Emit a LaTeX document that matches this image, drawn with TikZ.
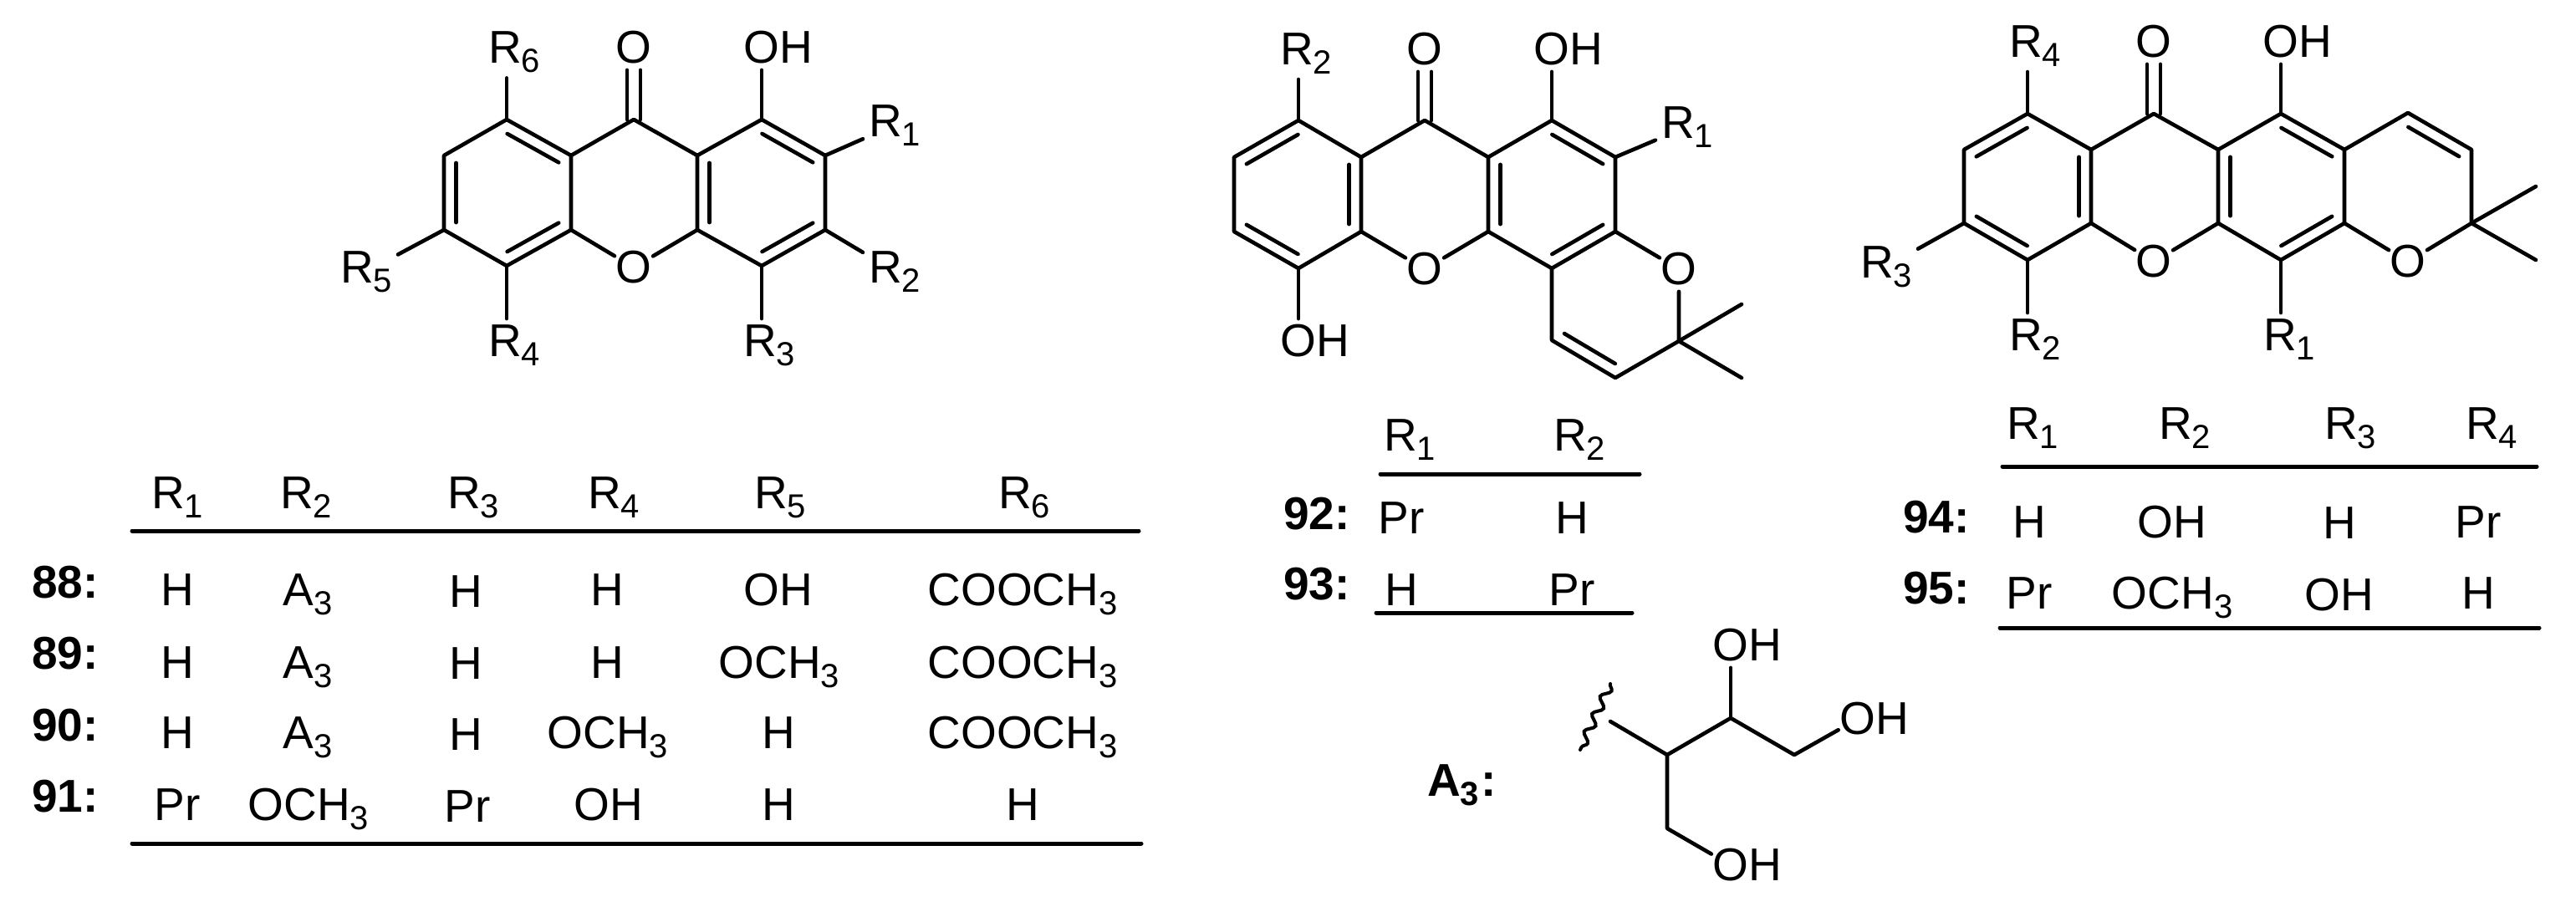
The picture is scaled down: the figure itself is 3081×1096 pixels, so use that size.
\documentclass[tikz,border=0pt]{standalone}
\usepackage{fontspec}
\setmainfont{Liberation Sans}
\usetikzlibrary{calc,decorations.pathmorphing}
\newcommand{\sbs}[1]{\raisebox{-11pt}{\fontsize{40}{44}\selectfont #1}}
\tikzset{
  every node/.style={font=\fontsize{55}{60}\selectfont},
  bond/.style={line width=4.6pt, line cap=round, line join=round},
  rulebar/.style={line width=5pt, line cap=round},
  inbond/.style={
    to path={($(\tikztostart)!0.1!(\tikztotarget)!14.5pt!90:(\tikztotarget)$)
      -- ($(\tikztotarget)!0.1!(\tikztostart)!14.5pt!-90:(\tikztostart)$)}
  },
  atom/.style={circle, inner sep=0pt, outer sep=-2pt},
  rgroup/.style={anchor=base west, inner sep=0pt, outer sep=7pt},
  cell/.style={anchor=base, inner sep=0pt},
  tag/.style={anchor=base west, inner sep=0pt, font=\fontsize{55}{60}\selectfont\bfseries},
  wavy/.style={line width=4pt, line cap=round, decorate,
    decoration={snake, segment length=23pt, amplitude=5pt}},
}

\begin{document}
\begin{tikzpicture}[x=1pt,y=-1pt]
\useasboundingbox (0,0) rectangle (3081,1096);
% --- Compounds 88-91 ---
\coordinate (a1) at (606,143);
\coordinate (a2) at (531,186);
\coordinate (a3) at (531,275);
\coordinate (a4) at (606,318);
\coordinate (a5) at (683,275);
\coordinate (a6) at (683,186);
\coordinate (a7) at (758,143);
\coordinate (a8) at (834,186);
\coordinate (a9) at (834,275);
\coordinate (a10) at (911,143);
\coordinate (a11) at (911,318);
\coordinate (a12) at (987,275);
\coordinate (a13) at (987,186);
\node[atom] (aketo) at (758,57) {O};
\node[atom] (aoxo) at (758,320) {O};
\node[atom] (aoh) at (911,57) {O\rlap{H}};
\node[rgroup] (ar6) at (577,75) {R\sbs{6}};
\node[rgroup] (ar1) at (1032,163) {R\sbs{1}};
\node[rgroup] (ar2) at (1032,338) {R\sbs{2}};
\node[rgroup] (ar3) at (882,426) {R\sbs{3}};
\node[rgroup] (ar4) at (577,426) {R\sbs{4}};
\node[rgroup] (ar5) at (400,338) {R\sbs{5}};
\draw[bond] (a1) -- (a2) -- (a3) -- (a4) -- (a5) -- (a6) -- cycle;
\draw[bond] (a6) -- (a7) -- (a8) -- (a9) -- (aoxo) -- (a5);
\draw[bond] (a8) -- (a10) -- (a13) -- (a12) -- (a11) -- (a9);
\draw[bond] (a2) to[inbond] (a3);
\draw[bond] (a4) to[inbond] (a5);
\draw[bond] (a6) to[inbond] (a1);
\draw[bond] (a8) to[inbond] (a9);
\draw[bond] (a11) to[inbond] (a12);
\draw[bond] (a13) to[inbond] (a10);
\draw[bond,transform canvas={xshift=-8pt}] (a7) -- (aketo);
\draw[bond,transform canvas={xshift=8pt}] (a7) -- (aketo);
\draw[bond] (a10) -- (aoh);
\draw[bond] (a1) -- (a1 |- ar6.south);
\draw[bond] (a13) -- (ar1);
\draw[bond] (a12) -- (ar2);
\draw[bond] (a11) -- (a11 |- ar3.north);
\draw[bond] (a4) -- (a4 |- ar4.north);
\draw[bond] (a3) -- (ar5);
% table
\coordinate (abar1) at (158,635);
\coordinate (abar2) at (1362,635);
\coordinate (abar3) at (158,1009);
\coordinate (abar4) at (1365,1009);
\draw[rulebar] (abar1) -- (abar2);
\draw[rulebar] (abar3) -- (abar4);
\node[cell] (ah1) at (212,608) {R\sbs{1}};
\node[cell] (ah2) at (366,608) {R\sbs{2}};
\node[cell] (ah3) at (566,608) {R\sbs{3}};
\node[cell] (ah4) at (734,608) {R\sbs{4}};
\node[cell] (ah5) at (933,608) {R\sbs{5}};
\node[cell] (ah6) at (1225,608) {R\sbs{6}};
\node[tag] (t88) at (38,715) {88:};
\node[cell] (c88a) at (212,724) {H};
\node[cell] (c88b) at (368,724) {A\sbs{3}};
\node[cell] (c88c) at (557,726) {H};
\node[cell] (c88d) at (726,724) {H};
\node[cell] (c88e) at (931,724) {OH};
\node[cell] (c88f) at (1223,724) {COOCH\sbs{3}};
\node[tag] (t89) at (38,800) {89:};
\node[cell] (c89a) at (212,811) {H};
\node[cell] (c89b) at (368,811) {A\sbs{3}};
\node[cell] (c89c) at (557,812) {H};
\node[cell] (c89d) at (726,811) {H};
\node[cell] (c89e) at (932,811) {OCH\sbs{3}};
\node[cell] (c89f) at (1223,811) {COOCH\sbs{3}};
\node[tag] (t90) at (38,886) {90:};
\node[cell] (c90a) at (212,895) {H};
\node[cell] (c90b) at (368,895) {A\sbs{3}};
\node[cell] (c90c) at (557,897) {H};
\node[cell] (c90d) at (727,895) {OCH\sbs{3}};
\node[cell] (c90e) at (931,895) {H};
\node[cell] (c90f) at (1223,895) {COOCH\sbs{3}};
\node[tag] (t91) at (38,971) {91:};
\node[cell] (c91a) at (212,981) {Pr};
\node[cell] (c91b) at (369,981) {OCH\sbs{3}};
\node[cell] (c91c) at (559,983) {Pr};
\node[cell] (c91d) at (728,981) {OH};
\node[cell] (c91e) at (931,981) {H};
\node[cell] (c91f) at (1223,981) {H};
% --- Compounds 92-93 ---
\coordinate (b1) at (1553,144);
\coordinate (b2) at (1476,188);
\coordinate (b3) at (1476,277);
\coordinate (b4) at (1553,321);
\coordinate (b5) at (1628,277);
\coordinate (b6) at (1628,188);
\coordinate (b7) at (1704,144);
\coordinate (b8) at (1780,188);
\coordinate (b9) at (1780,277);
\coordinate (b10) at (1856,144);
\coordinate (b11) at (1856,321);
\coordinate (b12) at (1932,277);
\coordinate (b13) at (1932,188);
\coordinate (b14) at (1856,407);
\coordinate (b15) at (1932,452);
\coordinate (b16) at (2008,408);
\coordinate (b17) at (2083,364);
\coordinate (b18) at (2083,452);
\node[atom] (bketo) at (1704,59) {O};
\node[atom] (boxo) at (1704,322) {O};
\node[atom] (bpyr) at (2008,322) {O};
\node[atom] (boh) at (1856,59) {O\rlap{H}};
\node[atom] (boh2) at (1553,408) {O\rlap{H}};
\node[rgroup] (br2) at (1524,77) {R\sbs{2}};
\node[rgroup] (br1) at (1980,165) {R\sbs{1}};
\draw[bond] (b1) -- (b2) -- (b3) -- (b4) -- (b5) -- (b6) -- cycle;
\draw[bond] (b6) -- (b7) -- (b8) -- (b9) -- (boxo) -- (b5);
\draw[bond] (b8) -- (b10) -- (b13) -- (b12) -- (b11) -- (b9);
\draw[bond] (b11) -- (b14) -- (b15) -- (b16) -- (bpyr) -- (b12);
\draw[bond] (b17) -- (b16) -- (b18);
\draw[bond] (b1) to[inbond] (b2);
\draw[bond] (b3) to[inbond] (b4);
\draw[bond] (b5) to[inbond] (b6);
\draw[bond] (b8) to[inbond] (b9);
\draw[bond] (b11) to[inbond] (b12);
\draw[bond] (b13) to[inbond] (b10);
\draw[bond] (b14) to[inbond] (b15);
\draw[bond,transform canvas={xshift=-8pt}] (b7) -- (bketo);
\draw[bond,transform canvas={xshift=8pt}] (b7) -- (bketo);
\draw[bond] (b10) -- (boh);
\draw[bond] (b4) -- (boh2);
\draw[bond] (b1) -- (b1 |- br2.south);
\draw[bond] (b13) -- (br1);
% table
\coordinate (bbar1) at (1651,567);
\coordinate (bbar2) at (1961,567);
\coordinate (bbar3) at (1646,733);
\coordinate (bbar4) at (1952,733);
\draw[rulebar] (bbar1) -- (bbar2);
\draw[rulebar] (bbar3) -- (bbar4);
\node[cell] (bh1) at (1686,539) {R\sbs{1}};
\node[cell] (bh2) at (1889,539) {R\sbs{2}};
\node[tag] (t92) at (1535,633) {92:};
\node[cell] (c92a) at (1676,638) {Pr};
\node[cell] (c92b) at (1880,638) {H};
\node[tag] (t93) at (1535,717) {93:};
\node[cell] (c93a) at (1676,724) {H};
\node[cell] (c93b) at (1880,724) {Pr};
% --- Compounds 94-95 ---
\coordinate (e1) at (2425,136);
\coordinate (e2) at (2349,179);
\coordinate (e3) at (2349,267);
\coordinate (e4) at (2425,311);
\coordinate (e5) at (2501,267);
\coordinate (e6) at (2501,179);
\coordinate (e7) at (2576,136);
\coordinate (e8) at (2653,179);
\coordinate (e9) at (2653,267);
\coordinate (e10) at (2728,136);
\coordinate (e11) at (2728,311);
\coordinate (e12) at (2804,267);
\coordinate (e13) at (2804,179);
\coordinate (e14) at (2880,135);
\coordinate (e15) at (2956,179);
\coordinate (e16) at (2956,267);
\coordinate (e17) at (3033,223);
\coordinate (e18) at (3033,311);
\node[atom] (eketo) at (2576,50) {O};
\node[atom] (eoxo) at (2576,313) {O};
\node[atom] (epyr) at (2880,313) {O};
\node[atom] (eoh) at (2728,50) {O\rlap{H}};
\node[rgroup] (er4) at (2396,68) {R\sbs{4}};
\node[rgroup] (er3) at (2218,332) {R\sbs{3}};
\node[rgroup] (er2) at (2396,419) {R\sbs{2}};
\node[rgroup] (er1) at (2700,419) {R\sbs{1}};
\draw[bond] (e1) -- (e2) -- (e3) -- (e4) -- (e5) -- (e6) -- cycle;
\draw[bond] (e6) -- (e7) -- (e8) -- (e9) -- (eoxo) -- (e5);
\draw[bond] (e8) -- (e10) -- (e13) -- (e12) -- (e11) -- (e9);
\draw[bond] (e13) -- (e14) -- (e15) -- (e16) -- (epyr) -- (e12);
\draw[bond] (e17) -- (e16) -- (e18);
\draw[bond] (e1) to[inbond] (e2);
\draw[bond] (e3) to[inbond] (e4);
\draw[bond] (e5) to[inbond] (e6);
\draw[bond] (e8) to[inbond] (e9);
\draw[bond] (e11) to[inbond] (e12);
\draw[bond] (e13) to[inbond] (e10);
\draw[bond] (e15) to[inbond] (e14);
\draw[bond,transform canvas={xshift=-8pt}] (e7) -- (eketo);
\draw[bond,transform canvas={xshift=8pt}] (e7) -- (eketo);
\draw[bond] (e10) -- (eoh);
\draw[bond] (e1) -- (e1 |- er4.south);
\draw[bond] (e3) -- (er3);
\draw[bond] (e4) -- (e4 |- er2.north);
\draw[bond] (e11) -- (e11 |- er1.north);
% table
\coordinate (ebar1) at (2395,558);
\coordinate (ebar2) at (3034,558);
\coordinate (ebar3) at (2392,751);
\coordinate (ebar4) at (3037,751);
\draw[rulebar] (ebar1) -- (ebar2);
\draw[rulebar] (ebar3) -- (ebar4);
\node[cell] (eh1) at (2431,525) {R\sbs{1}};
\node[cell] (eh2) at (2613,525) {R\sbs{2}};
\node[cell] (eh3) at (2811,525) {R\sbs{3}};
\node[cell] (eh4) at (2980,525) {R\sbs{4}};
\node[tag] (t94) at (2276,637) {94:};
\node[cell] (c94a) at (2427,643) {H};
\node[cell] (c94b) at (2598,643) {OH};
\node[cell] (c94c) at (2798,644) {H};
\node[cell] (c94d) at (2964,643) {Pr};
\node[tag] (t95) at (2276,722) {95:};
\node[cell] (c95a) at (2427,728) {Pr};
\node[cell] (c95b) at (2598,728) {OCH\sbs{3}};
\node[cell] (c95c) at (2798,730) {OH};
\node[cell] (c95d) at (2964,728) {H};
% --- Side chain A3 ---
\node[tag] (ta3) at (1707,952) {A\sbs{3}\kern2pt:};
\coordinate (d1) at (1994,903);
\coordinate (d2) at (2070,859);
\coordinate (d3) at (2146,903);
\coordinate (d4) at (1994,991);
\coordinate (d5) at (1926,863);
\coordinate (dw1) at (1926,818);
\coordinate (dw2) at (1890,897);
\node[atom] (doh1) at (2070,772) {O\rlap{H}};
\node[atom] (doh2) at (2222,860) {O\rlap{H}};
\node[atom] (doh3) at (2070,1035) {O\rlap{H}};
\draw[bond] (d5) -- (d1) -- (d2) -- (d3) -- (doh2);
\draw[bond] (d2) -- (doh1);
\draw[bond] (d1) -- (d4) -- (doh3);
\draw[wavy] (dw1) -- (dw2);
\end{tikzpicture}
\end{document}
